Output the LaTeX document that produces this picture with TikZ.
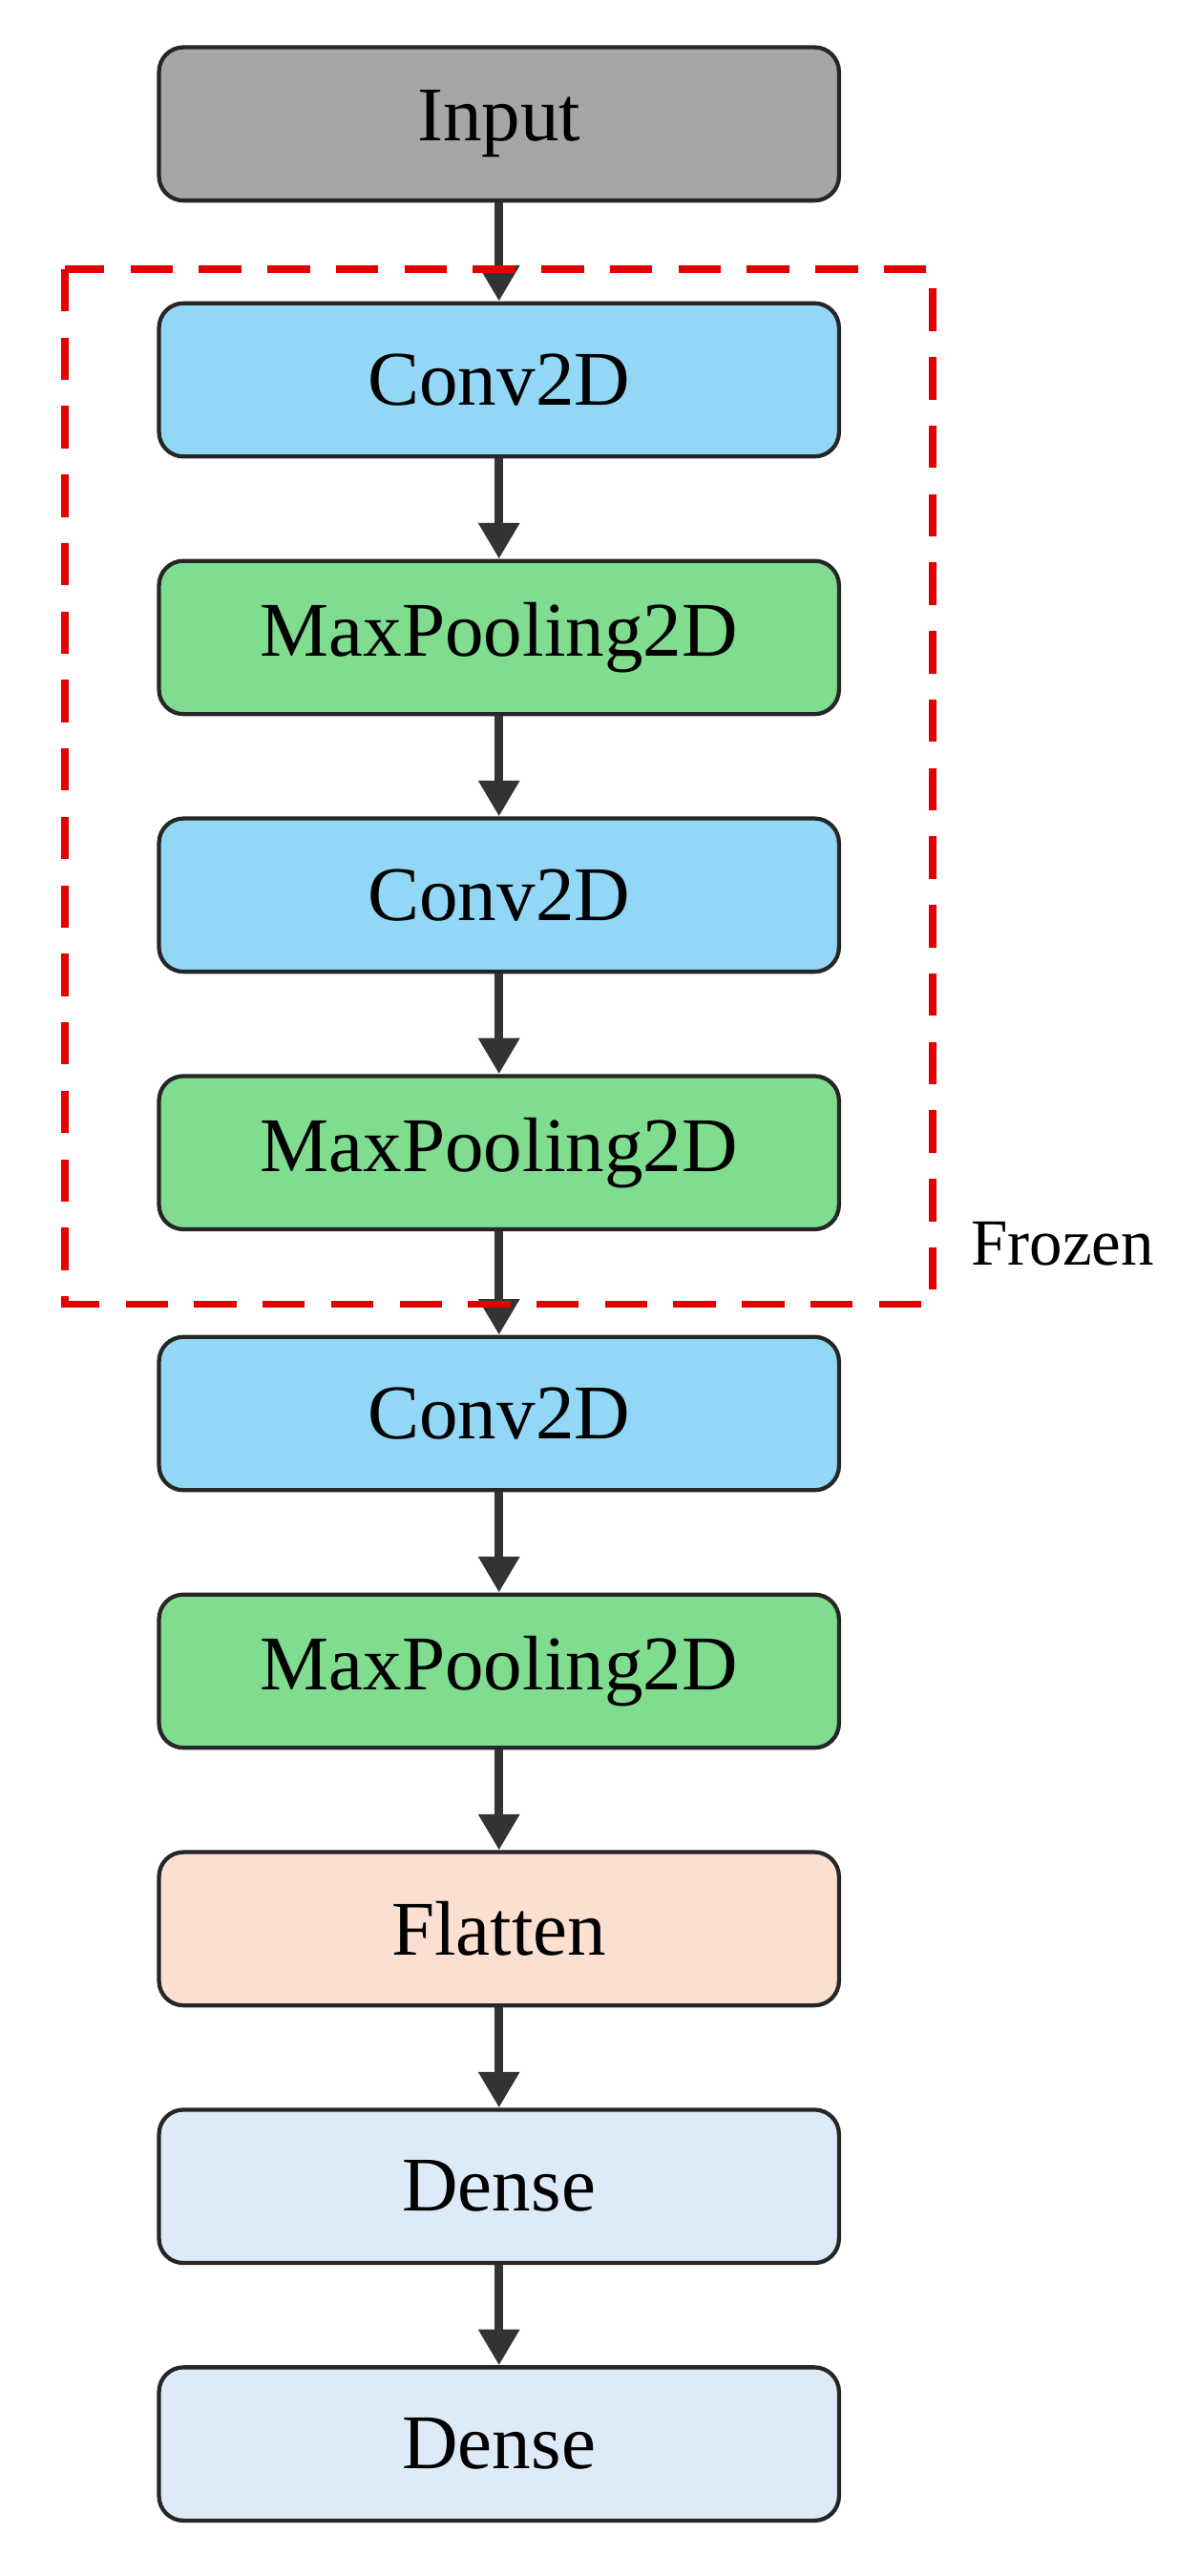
\documentclass[tikz,border=0pt]{standalone}
\usepackage{fontspec}
\setmainfont{Liberation Serif}
\usetikzlibrary{arrows.meta}
\definecolor{gr}{HTML}{A6A6A6}
\definecolor{bl}{HTML}{92D8F6}
\definecolor{gn}{HTML}{80DC8E}
\definecolor{fl}{HTML}{FBE0D2}
\definecolor{de}{HTML}{DDEAF7}
\begin{document}
\begin{tikzpicture}[x=0.1mm,y=-0.1mm,
 box/.style={draw=black!85,line width=0.25mm,rounded corners=1.5mm,minimum width=41.7mm,minimum height=9.4mm,font=\fontsize{13.5}{16}\selectfont},
 arr/.style={line width=0.55mm,draw=black!80,-{Triangle[length=2.2mm,width=2.4mm]}}]
\useasboundingbox (0,0) rectangle (722,1580);
\node[box,fill=gr] (in) at (306,76) {Input};
\node[box,fill=bl] (c1) at (306,233) {Conv2D};
\node[box,fill=gn] (m1) at (306,391) {MaxPooling2D};
\node[box,fill=bl] (c2) at (306,549) {Conv2D};
\node[box,fill=gn] (m2) at (306,707) {MaxPooling2D};
\node[box,fill=bl] (c3) at (306,867) {Conv2D};
\node[box,fill=gn] (m3) at (306,1025) {MaxPooling2D};
\node[box,fill=fl] (f) at (306,1183) {Flatten};
\node[box,fill=de] (d1) at (306,1341) {Dense};
\node[box,fill=de] (d2) at (306,1499) {Dense};
\foreach \a/\b in {in/c1,c1/m1,m1/c2,c2/m2,m2/c3,c3/m3,m3/f,f/d1,d1/d2}
  \draw[arr] (\a) -- (\b);
\draw[red!90!black,line width=0.45mm,dash pattern=on 2.6mm off 1.6mm] (40,165) rectangle (572,800);
\node[anchor=west,font=\fontsize{11.5}{14}\selectfont] (fz) at (583,763) {Frozen};
\end{tikzpicture}
\end{document}
